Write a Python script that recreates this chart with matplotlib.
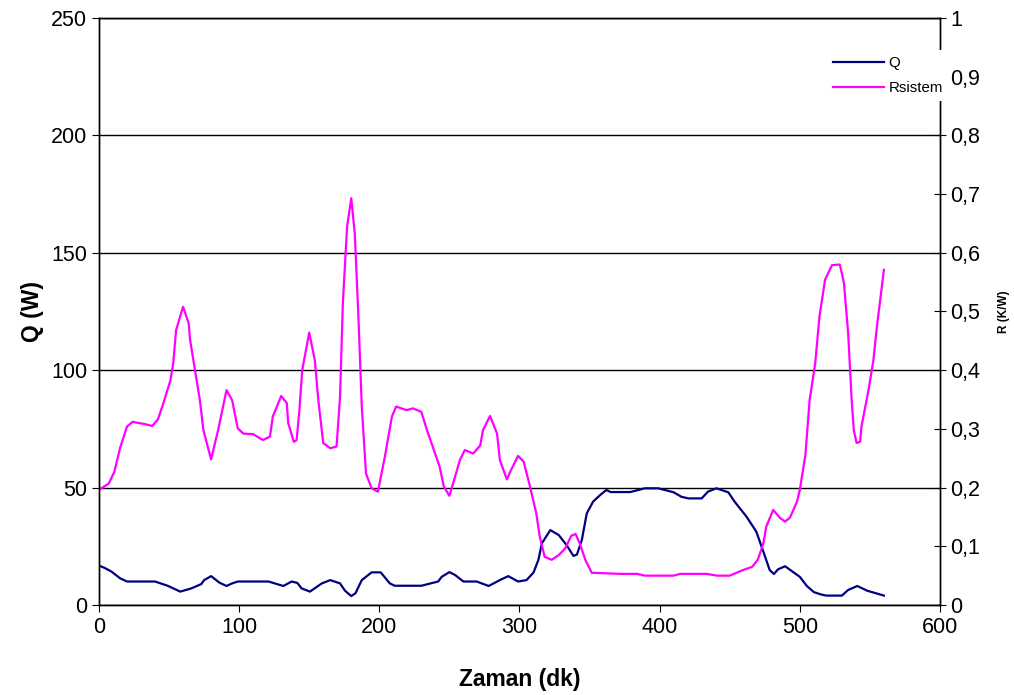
import numpy as np
import matplotlib
matplotlib.use("Agg")
import matplotlib.pyplot as plt
from matplotlib.ticker import FuncFormatter, MultipleLocator

# Q (W) - isi akisi
q_t = [0, 4, 9, 15, 20, 40, 49, 58, 66, 73, 75, 80, 86, 91, 95, 99, 121, 131.5, 137.5, 141.5,
       144.5, 150.5, 159, 165, 172, 175.5, 180, 183, 187.5, 194.5, 201, 207.5, 211, 230, 242,
       244.5, 250, 254, 260, 269.5, 278, 286, 292, 299, 305, 310, 313.5, 316, 322, 328, 333.5,
       338.5, 341, 344.5, 348, 352.5, 357.5, 362, 365, 379, 389.5, 399, 410, 415.5, 420.5, 430,
       434.5, 440.5, 449, 453.5, 462, 469, 474, 478.5, 481.5, 484.5, 489.5, 500, 505, 510, 515,
       519, 530, 534.5, 541, 548, 560]
q_val = [16.8, 15.8, 14.2, 11.4, 10, 10, 8.2, 5.7, 7.1, 8.9, 10.6, 12.3, 9.5, 8.1, 9.2, 10, 10,
         8.1, 10, 9.4, 7.1, 5.7, 9.2, 10.6, 9.2, 6.1, 3.8, 5, 10.6, 13.9, 13.9, 9.2, 8.2, 8.2, 10,
         12, 14, 12.8, 10, 10, 8.1, 10.6, 12.3, 10, 10.6, 13.8, 19.2, 26.3, 31.9, 29.8, 25.6,
         20.9, 21.5, 27.7, 39, 44, 46.8, 49, 48.1, 48.1, 49.7, 49.7, 48, 46.1, 45.4, 45.4,
         48.3, 49.7, 48, 44, 37.6, 31.2, 22.7, 14.9, 13.2, 15.2, 16.5, 12, 8.1, 5.5, 4.5,
         4, 4, 6.4, 8.1, 6.1, 4]

# Rsistem (K/W)
r_t = [0, 7, 11, 15, 20, 24, 33, 38, 42, 46, 51, 53, 55, 60, 64, 65, 68.5, 72, 74.5, 80, 85,
       91, 95, 99, 103, 110, 117, 122, 124, 130, 134, 135, 139, 141, 143, 145, 150, 154, 156.5,
       160, 165, 169.5, 172, 174, 177, 180, 182.5, 185, 187.5, 190.5, 194.5, 199, 204, 209, 212,
       219.5, 224, 230, 234, 243, 246, 250, 254, 257.5, 261, 267, 272, 274, 279, 284, 286, 291,
       294, 299, 303, 307.5, 312, 314.5, 318, 323, 328, 332.5, 337, 340, 343, 347, 351.5, 372,
       384, 389.5, 410, 414.5, 433.5, 441, 450, 460, 466, 470, 474, 476, 481, 486, 489.5, 493,
       498, 500, 504, 505, 507, 511, 514, 518, 523, 528.5, 530, 531.5, 534.5, 537, 538.5, 540.5,
       543, 544, 549, 552.5, 555, 560]
r_val = [0.196, 0.207, 0.227, 0.267, 0.304, 0.312, 0.308, 0.305, 0.316, 0.344, 0.383, 0.412,
         0.468, 0.508, 0.48, 0.452, 0.40, 0.349, 0.298, 0.248, 0.298, 0.366, 0.349, 0.301,
         0.292, 0.291, 0.281, 0.287, 0.321, 0.356, 0.344, 0.31, 0.278, 0.281, 0.332, 0.40,
         0.464, 0.417, 0.349, 0.276, 0.267, 0.27, 0.355, 0.514, 0.644, 0.693, 0.633, 0.497,
         0.338, 0.224, 0.199, 0.193, 0.253, 0.321, 0.338, 0.332, 0.335, 0.329, 0.298, 0.236,
         0.202, 0.186, 0.218, 0.247, 0.264, 0.258, 0.272, 0.298, 0.322, 0.292, 0.247, 0.214,
         0.23, 0.254, 0.244, 0.202, 0.156, 0.116, 0.082, 0.077, 0.085, 0.096, 0.118, 0.121,
         0.105, 0.077, 0.055, 0.053, 0.053, 0.05, 0.05, 0.053, 0.053, 0.05, 0.05, 0.06, 0.065,
         0.077, 0.105, 0.133, 0.162, 0.148, 0.142, 0.149, 0.176, 0.196, 0.256, 0.287, 0.349,
         0.412, 0.491, 0.554, 0.579, 0.58, 0.565, 0.548, 0.463, 0.349, 0.298, 0.276, 0.278,
         0.304, 0.366, 0.417, 0.474, 0.571]

plt.rcParams['font.family'] = ['Liberation Sans', 'DejaVu Sans']

fig = plt.figure(figsize=(10.14, 6.95), dpi=100)
ax = fig.add_axes([0.0976, 0.1295, 0.8294, 0.8446])
ax2 = ax.twinx()

lq, = ax.plot(q_t, q_val, color='#000080', lw=1.6, label='Q', solid_joinstyle='round')
lr, = ax2.plot(r_t, r_val, color='#FF00FF', lw=1.6, label='Rsistem', solid_joinstyle='round')

ax.set_xlim(0, 600)
ax.set_ylim(0, 250)
ax2.set_ylim(0, 1)
ax.xaxis.set_major_locator(MultipleLocator(100))
ax.yaxis.set_major_locator(MultipleLocator(50))
ax2.yaxis.set_major_locator(MultipleLocator(0.1))
ax2.yaxis.set_major_formatter(FuncFormatter(lambda v, p: ('%g' % round(v, 1)).replace('.', ',')))

ax.grid(axis='y', color='black', lw=1.0)
ax.set_axisbelow(True)
ax.tick_params(axis='both', labelsize=15.5, direction='out', length=5, color='black')
ax2.tick_params(axis='y', labelsize=15.5, direction='inout', length=8, color='black')
for a in (ax, ax2):
    for s in a.spines.values():
        s.set_color('black')
        s.set_linewidth(1.0)

ax.set_xlabel('Zaman (dk)', fontsize=16.5, fontweight='bold', labelpad=22)
ax.set_ylabel('Q (W)', fontsize=16.5, fontweight='bold', labelpad=5)
ax2.set_ylabel('R (K/W)', fontsize=8.5, fontweight='bold', labelpad=13)

leg = ax2.legend([lq, lr], ['Q', 'Rsistem'], loc='upper left',
                 bbox_to_anchor=(0.8155, 0.928), bbox_transform=fig.transFigure,
                 fontsize=10.8, frameon=True, facecolor='white', edgecolor='none', framealpha=1,
                 fancybox=False, handlelength=3.4, handletextpad=0.3, labelspacing=0.75,
                 borderpad=0.4, borderaxespad=0)
leg.set_zorder(10)

fig.savefig('out.png', dpi=100)
